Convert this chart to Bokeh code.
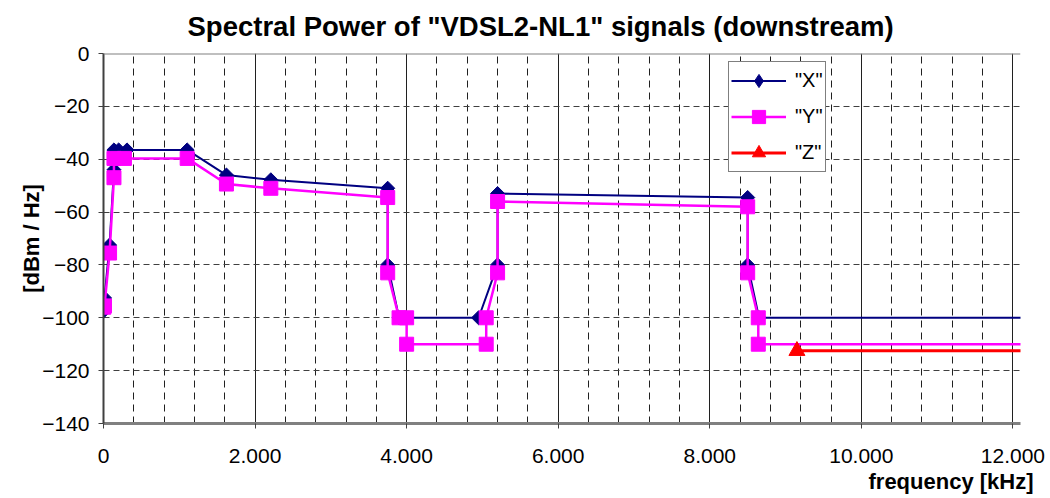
from bokeh.plotting import figure
from bokeh.models import Range1d, FixedTicker, Span, Legend, LegendItem, Title
from bokeh.embed import file_html
from bokeh.resources import INLINE
import numpy as np

# ---- data (kHz, dBm/Hz) ----
x_freq = [0, 13, 80, 138, 138, 200, 310, 1104, 1622, 2208, 3750, 3750, 3900, 4950,
          5200, 5200, 8500, 8500, 8650, 30000]
x_psd = [-97.5, -92.5, -72.5, -44.0, -36.5, -36.5, -36.5, -36.5, -46.0, -47.8, -51.0, -80.0,
         -100.0, -100.0, -80.0, -53.0, -54.5, -80.0, -100.0, -100.0]

y_freq = [4, 13, 80, 138, 138, 276, 1104, 1622, 2208, 3750, 3750, 3900, 4000, 4000,
          5050, 5050, 5200, 5200, 8500, 8500, 8640, 8640, 30000]
y_psd = [-96.0, -95.5, -75.5, -47.0, -39.7, -39.7, -39.7, -49.4, -51.0, -54.5, -83.0, -100.0,
         -100.0, -110.0, -110.0, -100.0, -83.0, -56.0, -58.0, -83.0, -100.0, -110.0, -110.0]

z_freq = [9150, 30000]
z_psd = [-112.5, -112.5]

x_ticks = [0, 2000, 4000, 6000, 8000, 10000, 12000]
x_tick_labels = ["0", "2.000", "4.000", "6.000", "8.000", "10.000", "12.000"]
y_ticks = [-140, -120, -100, -80, -60, -40, -20, 0]
minor_step = 400

FONT = "Liberation Sans"

p = figure(width=1050, height=498, x_range=Range1d(0, 12100), y_range=Range1d(-140, 0),
           output_backend="svg", toolbar_location=None,
           min_border_left=103, min_border_right=30, min_border_top=53, min_border_bottom=74)

p.background_fill_color = "white"
p.border_fill_color = "white"
p.outline_line_color = None

# title
p.title.text = 'Spectral Power of "VDSL2-NL1" signals (downstream)'
p.title.align = "left"
p.title.offset = 84
p.title.standoff = 19
p.title.vertical_align = "top"
p.title.text_font = FONT
p.title.text_font_size = "27.5px"
p.title.text_font_style = "bold"
p.title.text_color = "black"

# axes
minor_x = [v for v in range(0, 12001, minor_step) if v not in x_ticks]
p.xaxis.ticker = FixedTicker(ticks=x_ticks)
p.xaxis.major_label_overrides = {t: l for t, l in zip(x_ticks, x_tick_labels)}
p.yaxis.ticker = FixedTicker(ticks=y_ticks)
for ax in (p.xaxis[0], p.yaxis[0]):
    ax.major_label_text_font = FONT
    ax.major_label_text_font_size = "21px"
    ax.major_label_text_color = "black"
    ax.major_tick_out = 5
    ax.major_tick_in = 0
    ax.minor_tick_out = 0
    ax.minor_tick_in = 0
p.xaxis.major_label_standoff = 20
p.yaxis.major_label_standoff = 9
p.xaxis.axis_line_color = "#808080"
p.xaxis.axis_line_width = 3
p.xaxis.major_tick_line_color = "#404040"
p.yaxis.axis_line_color = "#404040"
p.yaxis.axis_line_width = 2
p.yaxis.major_tick_line_color = "#404040"

p.yaxis.axis_label = "[dBm / Hz]"
p.yaxis.axis_label_text_font = FONT
p.yaxis.axis_label_text_font_size = "22px"
p.yaxis.axis_label_text_font_style = "bold"
p.yaxis.axis_label_text_color = "black"
p.yaxis.axis_label_standoff = -5

p.add_layout(Title(text="frequency [kHz]", align="left", offset=765, standoff=6,
                   vertical_align="top", text_line_height=0.7,
                   text_font=FONT, text_font_size="22px", text_font_style="bold",
                   text_color="black"), "below")

# grids
p.xgrid.ticker = FixedTicker(ticks=x_ticks, minor_ticks=minor_x)
p.xgrid.grid_line_color = "#202020"
p.xgrid.grid_line_width = 1
p.xgrid.minor_grid_line_color = "#202020"
p.xgrid.minor_grid_line_dash = "7 5"
p.xgrid.minor_grid_line_width = 1
p.ygrid.ticker = FixedTicker(ticks=y_ticks)
p.ygrid.grid_line_color = "#404040"
p.ygrid.grid_line_dash = "6 4"
p.ygrid.grid_line_width = 1

p.add_layout(Span(location=0, dimension="width", line_color="#808080", line_width=2))

# series
lx = p.line(x_freq, x_psd, line_color="#000080", line_width=2)
sx = p.scatter(x_freq, x_psd, marker="square", angle=np.pi / 4, size=10,
               fill_color="#000080", line_color="#000080")
ly = p.line(y_freq, y_psd, line_color="#FF00FF", line_width=2.5)
sy = p.scatter(y_freq, y_psd, marker="square", size=14,
               fill_color="#FF00FF", line_color="#FF00FF")
lz = p.line(z_freq, z_psd, line_color="#FF0000", line_width=3)
sz = p.scatter(z_freq, z_psd, marker="triangle", size=16,
               fill_color="#FF0000", line_color="#FF0000")

# legend-only diamond glyph for "X" (legend markers ignore angle); NaN data, never visible
dx = p.scatter([np.nan], [np.nan], marker="diamond", fill_color="#000080", line_color="#000080")

legend = Legend(items=[LegendItem(label='"X"', renderers=[lx, dx]),
                       LegendItem(label='"Y"', renderers=[ly, sy]),
                       LegendItem(label='"Z"', renderers=[lz, sz])],
                location=(625, 251))
legend.border_line_color = "black"
legend.border_line_width = 1
legend.background_fill_color = "white"
legend.background_fill_alpha = 1
legend.label_text_font = FONT
legend.label_text_font_size = "20px"
legend.label_text_color = "black"
legend.glyph_width = 55
legend.glyph_height = 33
legend.label_height = 24
legend.spacing = 3
legend.padding = 2
legend.margin = 0
legend.label_standoff = 9
p.add_layout(legend)

open("out.html", "w").write(file_html(p, INLINE))
